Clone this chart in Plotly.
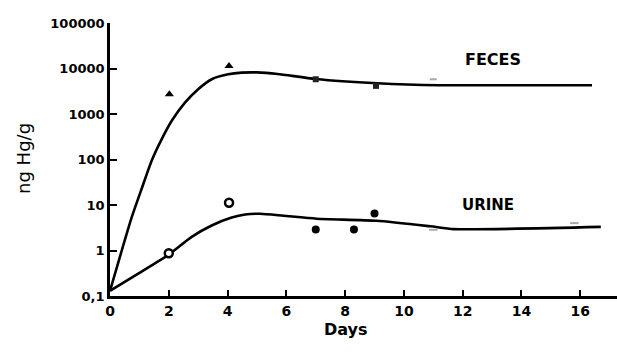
import plotly.graph_objects as go

# Fitted curves
feces_curve_days = [0, 0.4, 0.74, 1.08, 1.42, 1.76, 2.1, 2.55, 3.0, 3.46, 4.02, 4.48, 5.0, 5.7, 7.0, 9.1, 11.2, 13.7, 16.4]
feces_curve_vals = [0.13, 1.0, 5.4, 23, 95, 280, 710, 1780, 3500, 5800, 7450, 8100, 8200, 7600, 5900, 4750, 4300, 4300, 4300]
urine_curve_days = [0, 0.96, 1.98, 2.78, 3.46, 4.14, 4.6, 5.1, 5.9, 7.03, 9.07, 10.9, 11.7, 16.7]
urine_curve_vals = [0.13, 0.31, 0.8, 2.0, 3.55, 5.3, 6.2, 6.4, 5.8, 5.0, 4.5, 3.4, 2.95, 3.3]

# Measured points
feces_tri_days = [2.02, 4.05]
feces_tri_vals = [2700, 11300]
feces_sq_days = [7.0, 9.05]
feces_sq_vals = [5800, 4150]
feces_faint_days = [11.0]
feces_faint_vals = [5800]
urine_open_days = [2.0, 4.05]
urine_open_vals = [0.87, 11.2]
urine_fill_days = [7.0, 8.3, 9.0]
urine_fill_vals = [2.9, 2.9, 6.5]
urine_faint_days = [11.0, 15.8]
urine_faint_vals = [2.85, 4.0]

x_ticks = [0, 2, 4, 6, 8, 10, 12, 14, 16]
y_ticks = [0.1, 1, 10, 100, 1000, 10000, 100000]
y_ticktext = ["0,1", "1", "10", "100", "1000", "10000", "100000"]

FONT = "DejaVu Sans"
fig = go.Figure()
for d, v in [(feces_curve_days, feces_curve_vals), (urine_curve_days, urine_curve_vals)]:
    fig.add_trace(go.Scatter(x=d, y=v, mode="lines", line=dict(color="black", width=2.6, shape="spline", smoothing=0.6),
                             showlegend=False, hoverinfo="skip"))
fig.add_trace(go.Scatter(x=feces_tri_days, y=feces_tri_vals, mode="markers",
                         marker=dict(symbol="triangle-up", size=8, color="black"), showlegend=False))
fig.add_trace(go.Scatter(x=feces_sq_days, y=feces_sq_vals, mode="markers",
                         marker=dict(symbol="square", size=6, color="#222"), showlegend=False))
fig.add_trace(go.Scatter(x=feces_faint_days, y=feces_faint_vals, mode="markers",
                         marker=dict(symbol="line-ew", size=5, line=dict(color="#aaa", width=2)), showlegend=False))
fig.add_trace(go.Scatter(x=urine_open_days, y=urine_open_vals, mode="markers",
                         marker=dict(symbol="circle", size=8, color="white", line=dict(color="black", width=2.5)), showlegend=False))
fig.add_trace(go.Scatter(x=urine_fill_days, y=urine_fill_vals, mode="markers",
                         marker=dict(symbol="circle", size=8, color="black"), showlegend=False))
fig.add_trace(go.Scatter(x=urine_faint_days, y=urine_faint_vals, mode="markers",
                         marker=dict(symbol="line-ew", size=6, line=dict(color="#aaa", width=2)), showlegend=False))

fig.update_layout(
    width=617, height=352,
    margin=dict(l=110, r=0, t=23, b=56),
    paper_bgcolor="white", plot_bgcolor="white",
    font=dict(family=FONT, color="black"),
    xaxis=dict(range=[0, 17.25], tickvals=x_ticks, ticks="inside", ticklen=6, tickwidth=2, tickcolor="black",
               showline=True, linewidth=2.6, linecolor="black", showgrid=False, zeroline=False,
               tickfont=dict(family=FONT, size=14, weight="bold")),
    yaxis=dict(type="log", range=[-1, 5], tickvals=y_ticks, ticktext=y_ticktext, ticks="inside", ticklen=7,
               tickwidth=2, tickcolor="black", showline=True, linewidth=2.6, linecolor="black",
               showgrid=False, zeroline=False, tickfont=dict(family=FONT, size=13, weight="bold")),
    annotations=[
        dict(x=13.03, y=4.2, xref="x", yref="y", text="FECES", showarrow=False, xanchor="center",
             font=dict(family=FONT, size=16, weight="bold")),
        dict(x=12.87, y=1.01, xref="x", yref="y", text="URINE", showarrow=False, xanchor="center",
             font=dict(family=FONT, size=15, weight="bold")),
        dict(x=8.03, y=-0.165, xref="x", yref="paper", text="Days", showarrow=False, xanchor="center",
             font=dict(family=FONT, size=16, weight="bold")),
        dict(x=-0.172, y=0.505, xref="paper", yref="paper", text="ng Hg/g", showarrow=False, textangle=-90,
             xanchor="center", yanchor="middle", font=dict(family=FONT, size=18)),
    ],
)
fig.write_html("out.html")
